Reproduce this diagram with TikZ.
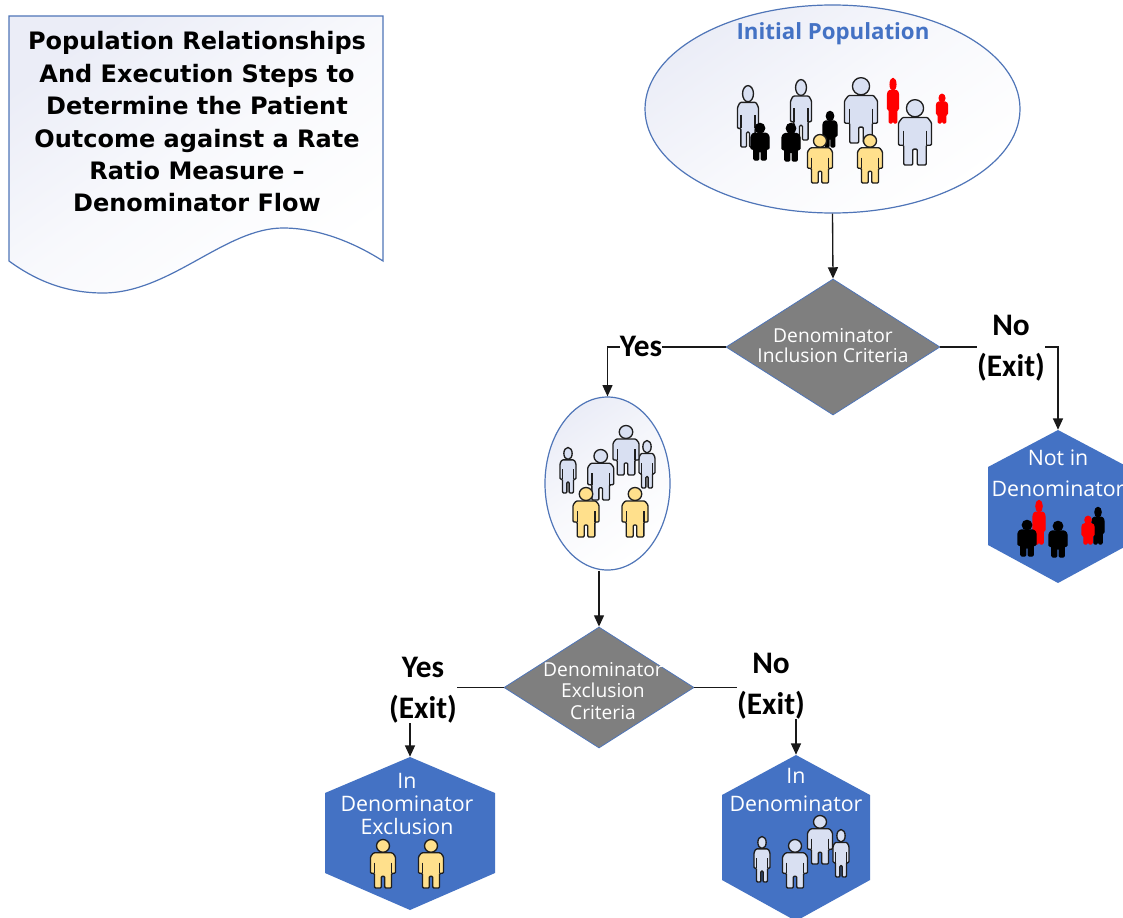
\documentclass[tikz,border=0pt]{standalone}
\usepackage{fontspec}
\setmainfont{Open Sans}
\newfontfamily\titlefont{DejaVu Sans}
\newfontfamily\exitfont{Carlito}
\usetikzlibrary{shapes.geometric,arrows.meta}
\definecolor{edgeblue}{HTML}{4F75B8}
\definecolor{hexblue}{HTML}{4472C4}
\definecolor{diagray}{HTML}{7F7F7F}
\definecolor{paleblue}{HTML}{EBEDF7}
\definecolor{persongray}{HTML}{D9E0F2}
\definecolor{personyellow}{HTML}{FFE08C}
\definecolor{personline}{HTML}{1E1E1E}
\tikzset{
  softfill/.style={draw=edgeblue,line width=0.9pt,top color=paleblue,bottom color=white,middle color=paleblue!35!white,shading angle=35},
  popellipse/.style={shape=ellipse,softfill,inner sep=0pt},
  decision/.style={shape=diamond,draw=edgeblue,line width=0.6pt,fill=diagray,inner sep=0pt},
  decisiontext/.style={text=white,font=\fontsize{14.4pt}{16pt}\selectfont,align=center,inner sep=0pt},
  hexpath/.style={fill=hexblue,draw=none},
  hexbox/.style={shape=rectangle,inner sep=0pt},
  hextext/.style={text=white,align=center,inner sep=0pt},
  exitlabel/.style={font=\exitfont\bfseries\fontsize{23.5pt}{30.7pt}\selectfont,align=center,fill=white,inner sep=0pt},
  flow/.style={draw=black!90,line width=1pt},
  flowarrow/.style={flow,-{Triangle[length=8.5pt,width=7.5pt]}},
  titletext/.style={font=\titlefont\bfseries\fontsize{18pt}{24.3pt}\selectfont,align=center,inner sep=0pt,text=black},
}
% centre x, top y, bottom y, width, fill, outline
\newcommand\person[6]{%
  \pgfmathsetmacro\personh{#3-#2}%
  \begin{scope}[shift={(#1,#2)},xscale=#4,yscale=\personh]
    \draw[fill=#5,draw=#6,line width=1pt,line join=round] (0,0.14) ellipse (0.26 and 0.13);
    \draw[fill=#5,draw=#6,line width=1pt,line join=round,rounded corners=0.8pt]
      (-0.5,0.7) -- (-0.5,0.36) -- (-0.38,0.28) -- (0.38,0.28) -- (0.5,0.36) -- (0.5,0.7)
      -- (0.34,0.7) -- (0.34,1) -- (0.07,1) -- (0.07,0.76) -- (-0.07,0.76) -- (-0.07,1)
      -- (-0.34,1) -- (-0.34,0.7) -- cycle;
    \draw[draw=#6,line width=1pt] (-0.34,0.48) -- (-0.34,0.7) (0.34,0.48) -- (0.34,0.7);
  \end{scope}}
\newcommand\graymen[4]{\person{#1}{#2}{#3}{#4}{persongray}{personline}}
\newcommand\yellowman[4]{\person{#1}{#2}{#3}{#4}{personyellow}{personline}}
\newcommand\blackman[4]{\person{#1}{#2}{#3}{#4}{black}{black}}
\newcommand\redman[4]{\person{#1}{#2}{#3}{#4}{red}{red}}
\begin{document}
\begin{tikzpicture}[x=0.75pt,y=-0.75pt]
\useasboundingbox (0,0) rectangle (1123,917);
\clip (0,0) rectangle (1123,917);
\fill[white] (0,0) rectangle (1123,917);

% title document shape
\path[softfill,line join=miter] (9,16) -- (383,16) -- (383,261)
  .. controls (350,240) and (315,228) .. (283,228)
  .. controls (225,228) and (170,293) .. (103,293)
  .. controls (65,293) and (35,280) .. (9,261) -- cycle;
\node[titletext] (title) at (197,122) {Population Relationships\\And Execution Steps to\\Determine the Patient\\Outcome against a Rate\\Ratio Measure –\\Denominator Flow};

% ellipses
\node[popellipse,minimum width=375*0.75pt,minimum height=208*0.75pt] (e1) at (832.5,109) {};
\node[popellipse,minimum width=125*0.75pt,minimum height=173*0.75pt] (e2) at (607.5,483.5) {};
\node[text=hexblue,font=\bfseries\fontsize{16.7pt}{18pt}\selectfont,inner sep=0pt] (e1t) at (833,34) {Initial Population};

% diamonds
\node[decision,minimum width=214*0.75pt,minimum height=136*0.75pt] (d1) at (833,347) {};
\node[decisiontext,font=\fontsize{14.4pt}{15pt}\selectfont] (d1t) at (833,346) {Denominator\\Inclusion Criteria};
\node[decision,minimum width=190*0.75pt,minimum height=121*0.75pt] (d2) at (599,687.5) {};
\node[decisiontext] (d2t) at (603,691) {Denominator\\Exclusion\\Criteria};

% hexagons
\fill[hexpath] (1058,430) -- (1128,467) -- (1128,545) -- (1058,583) -- (988,545) -- (988,467) -- cycle;
\node[hexbox,minimum width=140*0.75pt,minimum height=153*0.75pt] (h1) at (1058,506.5) {};
\node[hextext,font=\fontsize{16pt}{23pt}\selectfont] (h1t) at (1058,473) {Not in\\Denominator};
\fill[hexpath] (410,757) -- (495,793) -- (495,873) -- (410,910) -- (325,873) -- (325,793) -- cycle;
\node[hexbox,minimum width=170*0.75pt,minimum height=153*0.75pt] (h2) at (410,833.5) {};
\node[hextext,font=\fontsize{16pt}{17.5pt}\selectfont] (h2t) at (407,804) {In\\Denominator\\Exclusion};
\fill[hexpath] (796,755) -- (870,795) -- (870,880) -- (796,921) -- (722,880) -- (722,795) -- cycle;
\node[hexbox,minimum width=148*0.75pt,minimum height=166*0.75pt] (h3) at (796,838) {};
\node[hextext,font=\fontsize{16pt}{21pt}\selectfont] (h3t) at (796,790) {In\\Denominator};

% connectors
\draw[flowarrow] (e1.south) -- (d1.north);
\draw[flowarrow] (d1.west) -- (e2.north |- d1.west) -- (e2.north);
\draw[flowarrow] (d1.east) -- (h1.north |- d1.east) -- (h1.north);
\draw[flowarrow] (d2.north |- e2.south) -- (d2.north);
\node[exitlabel] (ly1) at (641,346) {Yes};
\node[exitlabel] (ln1) at (1011,348.5) {No\\(Exit)};
\node[exitlabel] (ly2) at (423,690) {Yes\\(Exit)};
\node[exitlabel] (ln2) at (771,686) {No\\(Exit)};
\draw[flow] (d2.west) -- (ly2.east |- d2.west);
\draw[flow] (d2.east) -- (ln2.west |- d2.east);
\draw[flowarrow] (h2.north |- ly2.south) -- (h2.north);
\draw[flowarrow] (h3.north |- ln2.south) -- (h3.north);

% people: initial population
\graymen{748}{85}{147}{21}
\graymen{801}{79}{140}{21}
\graymen{861}{77}{143}{33}
\redman{893}{78}{123}{11}
\redman{942}{94}{123}{11}
\graymen{915}{99}{165}{33}
\blackman{760}{123}{160}{18}
\blackman{791}{123}{161}{18}
\blackman{830}{111}{147}{14}
\yellowman{820}{134}{183}{25}
\yellowman{870}{134}{183}{25}
% people: second ellipse
\graymen{568}{447}{493}{16}
\graymen{647}{440}{488}{16}
\graymen{626}{425}{475}{26}
\graymen{600.7}{449}{500}{26}
\yellowman{586}{487}{537}{26}
\yellowman{635}{487}{537}{26}
% people: not in denominator
\redman{1039}{500}{544}{12}
\blackman{1027}{520}{556}{18}
\blackman{1058}{521}{557}{18}
\blackman{1098}{507}{544}{12}
\redman{1088}{516}{544}{12}
% people: exclusion
\yellowman{383}{839}{888}{25}
\yellowman{431}{839}{888}{25}
% people: in denominator
\graymen{762}{836}{882}{16}
\graymen{795}{839}{888}{25}
\graymen{820}{815}{864}{25}
\graymen{841}{829}{877}{16}
\end{tikzpicture}
\end{document}
